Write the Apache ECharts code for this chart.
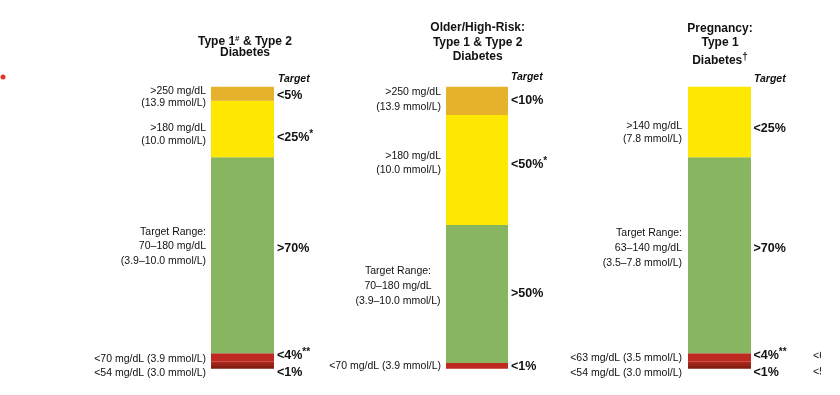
<!DOCTYPE html>
<html>
<head>
<meta charset="utf-8">
<script src="https://cdn.jsdelivr.net/npm/echarts@6/dist/echarts.min.js"></script>
<style>
html,body{margin:0;padding:0;background:#fff;}
#c{width:840px;height:395px;}
</style>
</head>
<body>
<div id="c"></div>
<script>
// ---- data (percent of time, stacked bottom -> top) ----
const panels = ['Type 1 & Type 2', 'Older/High-Risk', 'Pregnancy'];
const veryLow  = [2.5, 0, 2.5];   // <54 mg/dL
const low      = [3, 2, 3];       // <70 (or <63) mg/dL
const inRange  = [69.5, 49, 69.5];
const high     = [20, 39, 25];    // >180 (or >140)
const veryHigh = [5, 10, 0];      // >250

const titles = [
  'Type 1{s|#} & Type 2\nDiabetes',
  'Older/High-Risk:\nType 1 & Type 2\nDiabetes',
  'Pregnancy:\nType 1'
];
const targetLabels = [
  ['<5%', '<25%{s|*}', '>70%', '<4%{s|**}', '<1%'],
  ['<10%', '<50%{s|*}', '>50%', '<1%'],
  ['<25%', '>70%', '<4%{s|**}', '<1%']
];
const rangeLabels = [
  ['>250 mg/dL\n(13.9 mmol/L)', '>180 mg/dL\n(10.0 mmol/L)', 'Target Range:\n70–180 mg/dL\n(3.9–10.0 mmol/L)', '<70 mg/dL (3.9 mmol/L)\n<54 mg/dL (3.0 mmol/L)'],
  ['>250 mg/dL\n(13.9 mmol/L)', '>180 mg/dL\n(10.0 mmol/L)', 'Target Range:\n70–180 mg/dL\n(3.9–10.0 mmol/L)', '<70 mg/dL (3.9 mmol/L)'],
  ['>140 mg/dL\n(7.8 mmol/L)', 'Target Range:\n63–140 mg/dL\n(3.5–7.8 mmol/L)', '<63 mg/dL (3.5 mmol/L)\n<54 mg/dL (3.0 mmol/L)']
];

// ---- layout ----
const FONT = '"Liberation Sans", Arial, Helvetica, sans-serif';
const gridBoxes = [
  {left: 211, width: 63},
  {left: 446, width: 62},
  {left: 688, width: 63}
];
const TOP = 86.7, BOTTOM = 26.3;

const segDefs = [
  {name: 'Very low', data: veryLow, color: new echarts.graphic.LinearGradient(0,0,0,1,[{offset:0,color:'#B0281D'},{offset:1,color:'#7A1B10'}])},
  {name: 'Low', data: low, color: '#BE2A21'},
  {name: 'In range', data: inRange, color: '#88B55F'},
  {name: 'High', data: high, color: '#FEE700'},
  {name: 'Very high', data: veryHigh, color: '#E6B12B'}
];

const grid = [], xAxis = [], yAxis = [], series = [];
gridBoxes.forEach((g, i) => {
  grid.push({left: g.left, width: g.width, top: TOP, bottom: BOTTOM, containLabel: false});
  xAxis.push({type: 'category', gridIndex: i, data: [panels[i]], show: false});
  yAxis.push({type: 'value', gridIndex: i, min: 0, max: 100, show: false});
  segDefs.forEach(s => {
    series.push({
      type: 'bar', name: s.name, xAxisIndex: i, yAxisIndex: i, stack: 'p' + i,
      barWidth: '100%', data: [s.data[i]], itemStyle: {color: s.color},
      silent: true, animation: false
    });
  });
});

const sup = {s: {fontSize: 10, fontWeight: 'bold', fontFamily: FONT, fill: '#111', padding: [0, 0, 7, 0]}};
function txt(x, y, text, o) {
  o = o || {};
  return {
    type: 'text', x: x, y: y, silent: true,
    style: {
      text: text, fill: '#111', fontFamily: FONT,
      fontSize: o.size || 10.5, fontWeight: o.weight || 'normal', fontStyle: o.style || 'normal',
      align: o.align || 'right', verticalAlign: 'middle', lineHeight: o.lh || 13,
      rich: o.rich
    }
  };
}
const B = {size: 12.5, weight: 'bold', align: 'left', rich: sup};

const graphic = [
  // panel 1
  txt(245, 47.2, titles[0], {size: 12, weight: 'bold', align: 'center', lh: 11, rich: {s: {fontSize: 8, fontWeight: 'bold', fill: '#111', padding: [0,0,6,0]}}}),
  txt(278, 79.3, 'Target', {size: 10.5, weight: 'bold', style: 'italic', align: 'left'}),
  txt(206, 97.2, rangeLabels[0][0], {lh: 12.3}),
  txt(206, 134.4, rangeLabels[0][1], {lh: 13.3}),
  txt(206, 246.5, rangeLabels[0][2], {lh: 14.7}),
  txt(206, 366, rangeLabels[0][3], {lh: 13.4}),
  txt(277, 96, targetLabels[0][0], B),
  txt(277, 137.3, targetLabels[0][1], B),
  txt(277, 248.7, targetLabels[0][2], B),
  txt(277, 355.7, targetLabels[0][3], B),
  txt(277, 372.3, targetLabels[0][4], B),
  // panel 2
  txt(477.7, 42.2, titles[1], {size: 12, weight: 'bold', align: 'center', lh: 14.7}),
  txt(511, 77.3, 'Target', {size: 10.5, weight: 'bold', style: 'italic', align: 'left'}),
  txt(441, 99.8, rangeLabels[1][0], {lh: 15}),
  txt(441, 163, rangeLabels[1][1], {lh: 14}),
  txt(398, 286, rangeLabels[1][2], {lh: 15, align: 'center'}),
  txt(441, 366, rangeLabels[1][3], {}),
  txt(511, 101, targetLabels[1][0], B),
  txt(511, 165, targetLabels[1][1], B),
  txt(511, 293.3, targetLabels[1][2], B),
  txt(511, 366.7, targetLabels[1][3], B),
  // panel 3
  txt(720, 35.5, titles[2], {size: 12, weight: 'bold', align: 'center', lh: 14.4}),
  txt(720, 60.7, 'Diabetes{s|†}', {size: 12, weight: 'bold', align: 'center', rich: {s: {fontSize: 10, fontWeight: 'bold', fill: '#111', padding: [0,0,6,0]}}}),
  txt(754, 79.3, 'Target', {size: 10.5, weight: 'bold', style: 'italic', align: 'left'}),
  txt(682, 132.5, rangeLabels[2][0], {lh: 13}),
  txt(682, 248.1, rangeLabels[2][1], {lh: 15.3}),
  txt(682, 365.5, rangeLabels[2][2], {lh: 14.4}),
  txt(753.5, 128.3, targetLabels[2][0], B),
  txt(753.5, 248.3, targetLabels[2][1], B),
  txt(753.5, 355.7, targetLabels[2][2], B),
  txt(753.5, 372.3, targetLabels[2][3], B),
  // cropped neighbour panel text at right edge
  txt(813, 356, '<63 mg/dL', {align: 'left'}),
  txt(813, 372.5, '<54 mg/dL', {align: 'left'}),
  {type: 'rect', shape: {x: 821, y: 340, width: 19, height: 45}, style: {fill: '#fff'}, silent: true, z: 100},
  // red dot at left edge
  {type: 'circle', shape: {cx: 3, cy: 77, r: 2.5}, style: {fill: '#E53228'}, silent: true}
];

const chart = echarts.init(document.getElementById('c'), null, {renderer: 'canvas'});
chart.setOption({
  animation: false,
  backgroundColor: '#fff',
  grid: grid, xAxis: xAxis, yAxis: yAxis, series: series,
  graphic: graphic
});
</script>
</body>
</html>
